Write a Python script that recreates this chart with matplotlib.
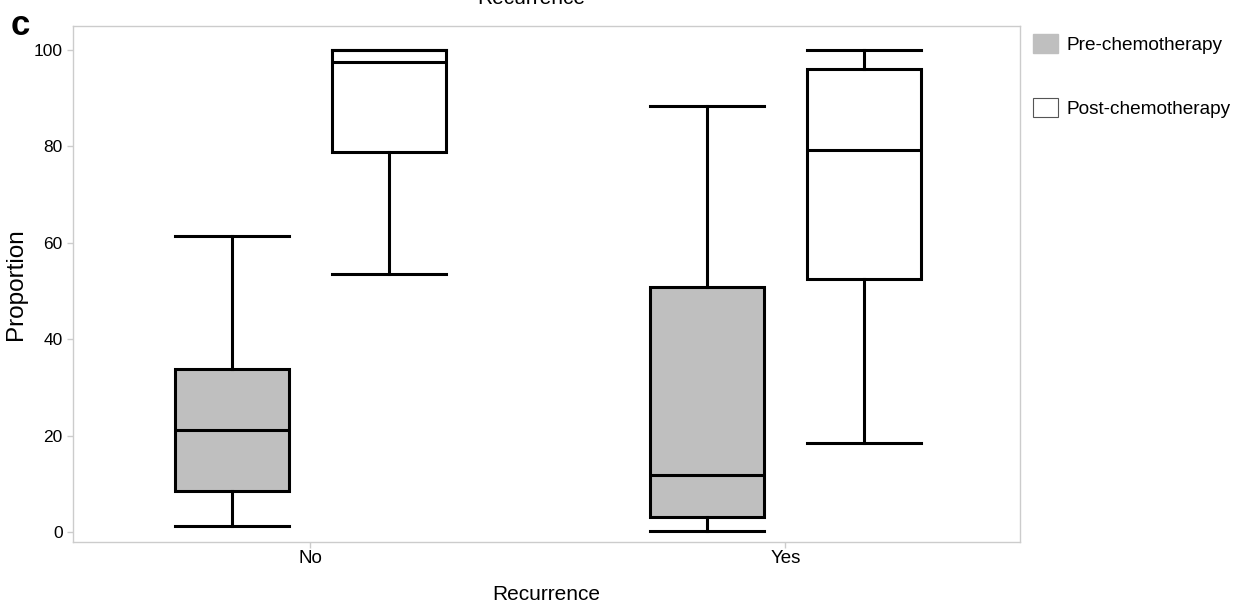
import matplotlib
matplotlib.use("Agg")
import matplotlib.pyplot as plt
from matplotlib.patches import Patch

plt.rcParams['font.family'] = ['Liberation Sans', 'DejaVu Sans']

# Data: five-number summaries per group
groups = ["No", "Yes"]
series = ["Pre-chemotherapy", "Post-chemotherapy"]
pre_low = [1.2, 0.2]
pre_q1 = [8.5, 3.1]
pre_med = [21.2, 11.8]
pre_q3 = [33.8, 50.8]
pre_high = [61.5, 88.4]
post_low = [53.5, 18.5]
post_q1 = [78.8, 52.5]
post_med = [97.6, 79.3]
post_q3 = [100.0, 96.1]
post_high = [100.0, 100.0]
yticks = [0, 20, 40, 60, 80, 100]

fill_colors = ["#bfbfbf", "#ffffff"]
offset = 0.166
width = 0.24

fig = plt.figure(figsize=(12.48, 6.04), dpi=100)
ax = fig.add_axes([73 / 1248, 62 / 604, 947 / 1248, 516 / 604])

def stats(low, q1, med, q3, high):
    return [dict(whislo=a, q1=b, med=c, q3=d, whishi=e, fliers=[])
            for a, b, c, d, e in zip(low, q1, med, q3, high)]

sets = [stats(pre_low, pre_q1, pre_med, pre_q3, pre_high),
        stats(post_low, post_q1, post_med, post_q3, post_high)]
for k, (st, col) in enumerate(zip(sets, fill_colors)):
    pos = [i + (k - 0.5) * 2 * offset for i in range(len(groups))]
    ax.bxp(st, positions=pos, widths=width, capwidths=width,
           showfliers=False, patch_artist=True,
           boxprops=dict(facecolor=col, edgecolor="black", linewidth=2.2),
           medianprops=dict(color="black", linewidth=2.2),
           whiskerprops=dict(color="black", linewidth=2.2),
           capprops=dict(color="black", linewidth=2.2),
           manage_ticks=False)

ax.set_xlim(-0.5, 1.494)
ax.set_ylim(-2.1, 105.0)
ax.set_xticks(range(len(groups)))
ax.set_xticklabels(groups)
ax.set_yticks(yticks)
for s in ax.spines.values():
    s.set_color("#cccccc")
    s.set_linewidth(1.0)
ax.tick_params(axis="both", colors="#cccccc", labelcolor="black",
               length=4, width=1)
ax.tick_params(axis="y", labelsize=12.5)
ax.tick_params(axis="x", labelsize=13.5, pad=2)
ax.set_xlabel("Recurrence", fontsize=15, labelpad=13)
ax.set_ylabel("Proportion", fontsize=17.5, labelpad=5)

handles = [Patch(facecolor=fill_colors[0], edgecolor=fill_colors[0]),
           Patch(facecolor=fill_colors[1], edgecolor="#555555", linewidth=0.8)]
fig.legend(handles, series, loc="upper left",
           bbox_to_anchor=(1033 / 1248, 1 - 34 / 604), frameon=False,
           fontsize=13.7, handlelength=1.3, handleheight=1.15,
           labelspacing=2.3, handletextpad=0.45, borderaxespad=0,
           borderpad=0)

fig.text(531 / 1248, 1 - 4 / 604, "Recurrence", fontsize=15,
         ha="center", va="baseline")
fig.text(11 / 1248, 1 - 35 / 604, "c", fontsize=25, fontweight="bold",
         ha="left", va="baseline")

fig.savefig("out.png", dpi=100)
